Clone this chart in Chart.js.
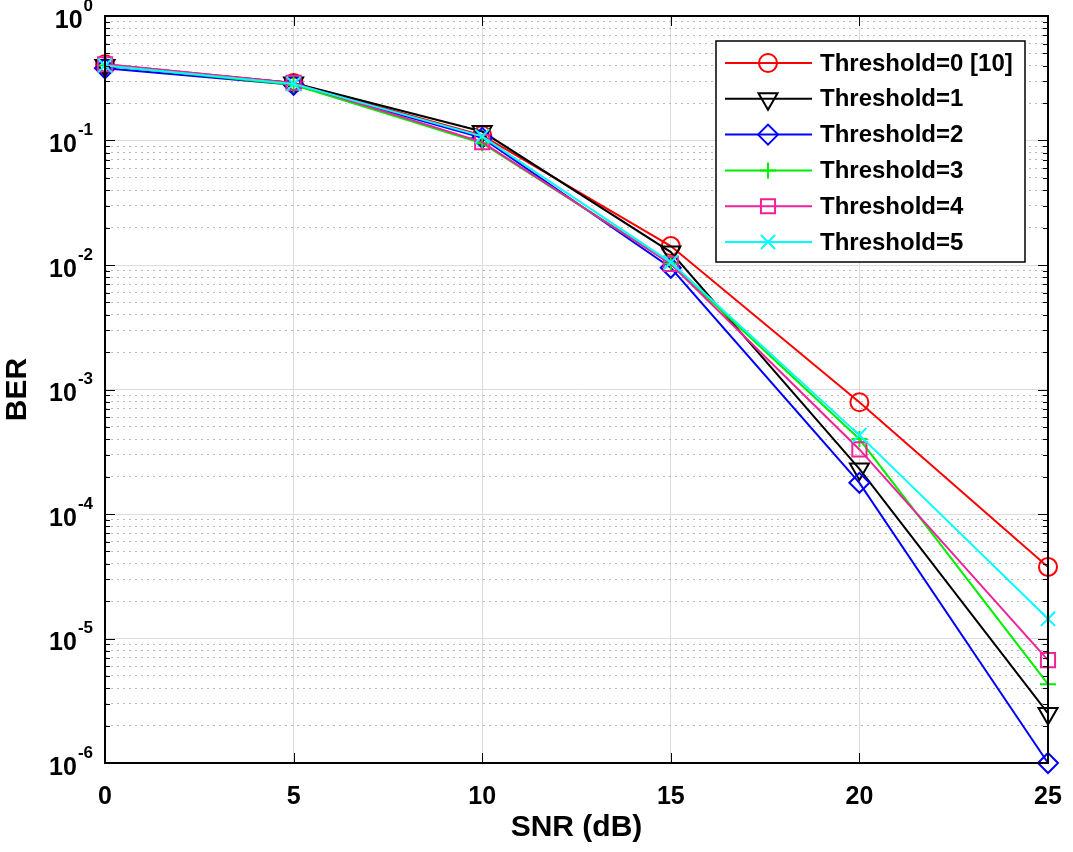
<!DOCTYPE html>
<html>
<head>
<meta charset="utf-8">
<script src="https://cdn.jsdelivr.net/npm/chart.js@4.4.1/dist/chart.umd.min.js"></script>
<style>
    body { margin: 0; background: #fff; }
</style>
</head>
<body>
<canvas id="berChart" width="1073" height="852"></canvas>
<script>
// SNR points (dB)
const snr = [0, 5, 10, 15, 20, 25];

// BER
const thr0 = [0.41, 0.29, 0.11, 0.0142, 7.9e-4, 3.76e-5];
const thr1 = [0.40, 0.29, 0.118, 0.0127, 2.3e-4, 2.5e-6];
const thr2 = [0.38, 0.28, 0.105, 0.0095, 1.78e-4, 1.0e-6];
const thr3 = [0.40, 0.28, 0.095, 0.0103, 4.0e-4, 4.3e-6];
const thr4 = [0.41, 0.29, 0.097, 0.0102, 3.3e-4, 6.7e-6];
const thr5 = [0.40, 0.285, 0.108, 0.0105, 4.3e-4, 1.44e-5];

const seriesLabels = ['Threshold=0 [10]', 'Threshold=1', 'Threshold=2', 'Threshold=3', 'Threshold=4', 'Threshold=5'];
const seriesColors = ['#ff0000', '#000000', '#0000ff', '#00ee00', '#ee2299', '#00ffff'];
const seriesMarkers = ['circle', 'triangle', 'rectRot', 'cross', 'rect', 'crossRot'];

// tick labels
const xTicks = [0, 5, 10, 15, 20, 25];
const yDecades = [1e-6, 1e-5, 1e-4, 1e-3, 1e-2, 1e-1, 1];
const yExponents = ['-6', '-5', '-4', '-3', '-2', '-1', '0'];
const minorMantissas = [2, 3, 4, 5, 6, 7, 8, 9];

const FONT = '"Liberation Sans", Arial, sans-serif';

function isDecade(v) {
    const l = Math.log10(v);
    return Math.abs(l - Math.round(l)) < 1e-6;
}

// all y tick values, decades plus minor ones
const yTickValues = [];
yDecades.forEach((d, i) => {
    yTickValues.push(d);
    if (i < yDecades.length - 1) {
        minorMantissas.forEach(m => yTickValues.push(d * m));
    }
});

const allSeries = [thr0, thr1, thr2, thr3, thr4, thr5];
const radii = [9, 11, 10, 8, 10, 10];

const datasets = allSeries.map((vals, i) => ({
    label: seriesLabels[i],
    data: snr.map((x, j) => ({ x: x, y: vals[j] })),
    borderColor: seriesColors[i],
    backgroundColor: 'transparent',
    borderWidth: 2,
    pointStyle: seriesMarkers[i],
    pointRadius: radii[i],
    pointBorderWidth: 2,
    pointRotation: seriesMarkers[i] === 'triangle' ? 180 : 0,
    pointBackgroundColor: 'transparent',
    pointBorderColor: seriesColors[i],
    tension: 0,
    clip: false,
    order: 5 - i
}));

// MATLAB style box, inward ticks, superscript labels
const axesPlugin = {
    id: 'matlabAxes',
    afterDatasetsDraw(chart) {
        const ctx = chart.ctx;
        const a = chart.chartArea;
        const xs = chart.scales.x;
        const ys = chart.scales.y;
        ctx.save();
        ctx.strokeStyle = '#000';
        ctx.lineWidth = 1;
        ctx.beginPath();
        xTicks.forEach(t => {
            const px = Math.round(xs.getPixelForValue(t)) + 0.5;
            ctx.moveTo(px, a.bottom); ctx.lineTo(px, a.bottom - 10);
            ctx.moveTo(px, a.top); ctx.lineTo(px, a.top + 10);
        });
        yTickValues.forEach(v => {
            const py = Math.round(ys.getPixelForValue(v)) + 0.5;
            const len = isDecade(v) ? 10 : 5;
            ctx.moveTo(a.left, py); ctx.lineTo(a.left + len, py);
            ctx.moveTo(a.right, py); ctx.lineTo(a.right - len, py);
        });
        ctx.stroke();
        ctx.lineWidth = 2;
        ctx.strokeRect(a.left, a.top, a.right - a.left, a.bottom - a.top);

        // y labels 10^n
        ctx.fillStyle = '#000';
        ctx.textBaseline = 'middle';
        yDecades.forEach((d, i) => {
            const py = ys.getPixelForValue(d);
            ctx.font = 'bold 17px ' + FONT;
            const ew = ctx.measureText(yExponents[i]).width;
            const ex = 93 - ew;
            ctx.textAlign = 'left';
            ctx.fillText(yExponents[i], ex, py - 10);
            ctx.font = 'bold 25px ' + FONT;
            ctx.textAlign = 'right';
            ctx.fillText('10', ex - 1, py + 5);
        });
        ctx.restore();
    },
    afterDraw(chart) {
        // legend box in the top right corner
        const ctx = chart.ctx;
        const bx = 716, by = 41, bw = 309, bh = 221;
        const rowH = 35.8;
        ctx.save();
        ctx.fillStyle = '#fff';
        ctx.fillRect(bx, by, bw, bh);
        ctx.strokeStyle = '#000';
        ctx.lineWidth = 1.5;
        ctx.strokeRect(bx, by, bw, bh);
        chart.data.datasets.forEach((ds, i) => {
            const cy = by + 22 + i * rowH;
            ctx.strokeStyle = ds.borderColor;
            ctx.lineWidth = 2;
            ctx.beginPath();
            ctx.moveTo(725, cy); ctx.lineTo(812, cy);
            ctx.stroke();
            ctx.fillStyle = 'rgba(0,0,0,0)';
            Chart.helpers.drawPoint(ctx, {
                pointStyle: ds.pointStyle,
                radius: ds.pointRadius,
                rotation: ds.pointRotation,
                borderWidth: 2
            }, 768, cy);
            ctx.fillStyle = '#000';
            ctx.font = 'bold 24px ' + FONT;
            ctx.textAlign = 'left';
            ctx.textBaseline = 'middle';
            ctx.fillText(ds.label, 820, cy + 1);
        });
        ctx.restore();
    }
};

const ctx = document.getElementById('berChart').getContext('2d');
new Chart(ctx, {
    type: 'line',
    data: { datasets: datasets },
    options: {
        responsive: false,
        animation: false,
        devicePixelRatio: 1,
        layout: { padding: { top: 16, right: 25, left: 0, bottom: 0 } },
        plugins: {
            legend: { display: false },
            tooltip: { enabled: false }
        },
        scales: {
            x: {
                type: 'linear',
                min: 0,
                max: 25,
                afterBuildTicks: scale => { scale.ticks = xTicks.map(v => ({ value: v })); },
                afterFit: scale => {
                    scale.height = 89;
                    scale.paddingLeft = 0;
                    scale.paddingRight = 0;
                },
                border: { display: false },
                grid: { color: '#dcdcdc', lineWidth: 1, drawTicks: false },
                ticks: {
                    padding: 19,
                    color: '#000',
                    font: { family: FONT, size: 25, weight: 'bold' }
                },
                title: {
                    display: true,
                    text: 'SNR (dB)',
                    color: '#000',
                    font: { family: FONT, size: 30, weight: 'bold' },
                    padding: { top: 0, bottom: 6 }
                }
            },
            y: {
                type: 'logarithmic',
                min: 1e-6,
                max: 1,
                afterBuildTicks: scale => { scale.ticks = yTickValues.map(v => ({ value: v })); },
                afterFit: scale => { scale.width = 105; },
                border: {
                    display: false,
                    dash: c => (c.tick && !isDecade(c.tick.value)) ? [2, 4] : []
                },
                grid: {
                    drawTicks: false,
                    lineWidth: 1,
                    color: c => (c.tick && !isDecade(c.tick.value)) ? '#b8b8b8' : '#dcdcdc'
                },
                ticks: { display: false },
                title: {
                    display: true,
                    text: 'BER',
                    color: '#000',
                    font: { family: FONT, size: 30, weight: 'bold' },
                    padding: { top: 0, bottom: 0 }
                }
            }
        }
    },
    plugins: [axesPlugin]
});
</script>
</body>
</html>
